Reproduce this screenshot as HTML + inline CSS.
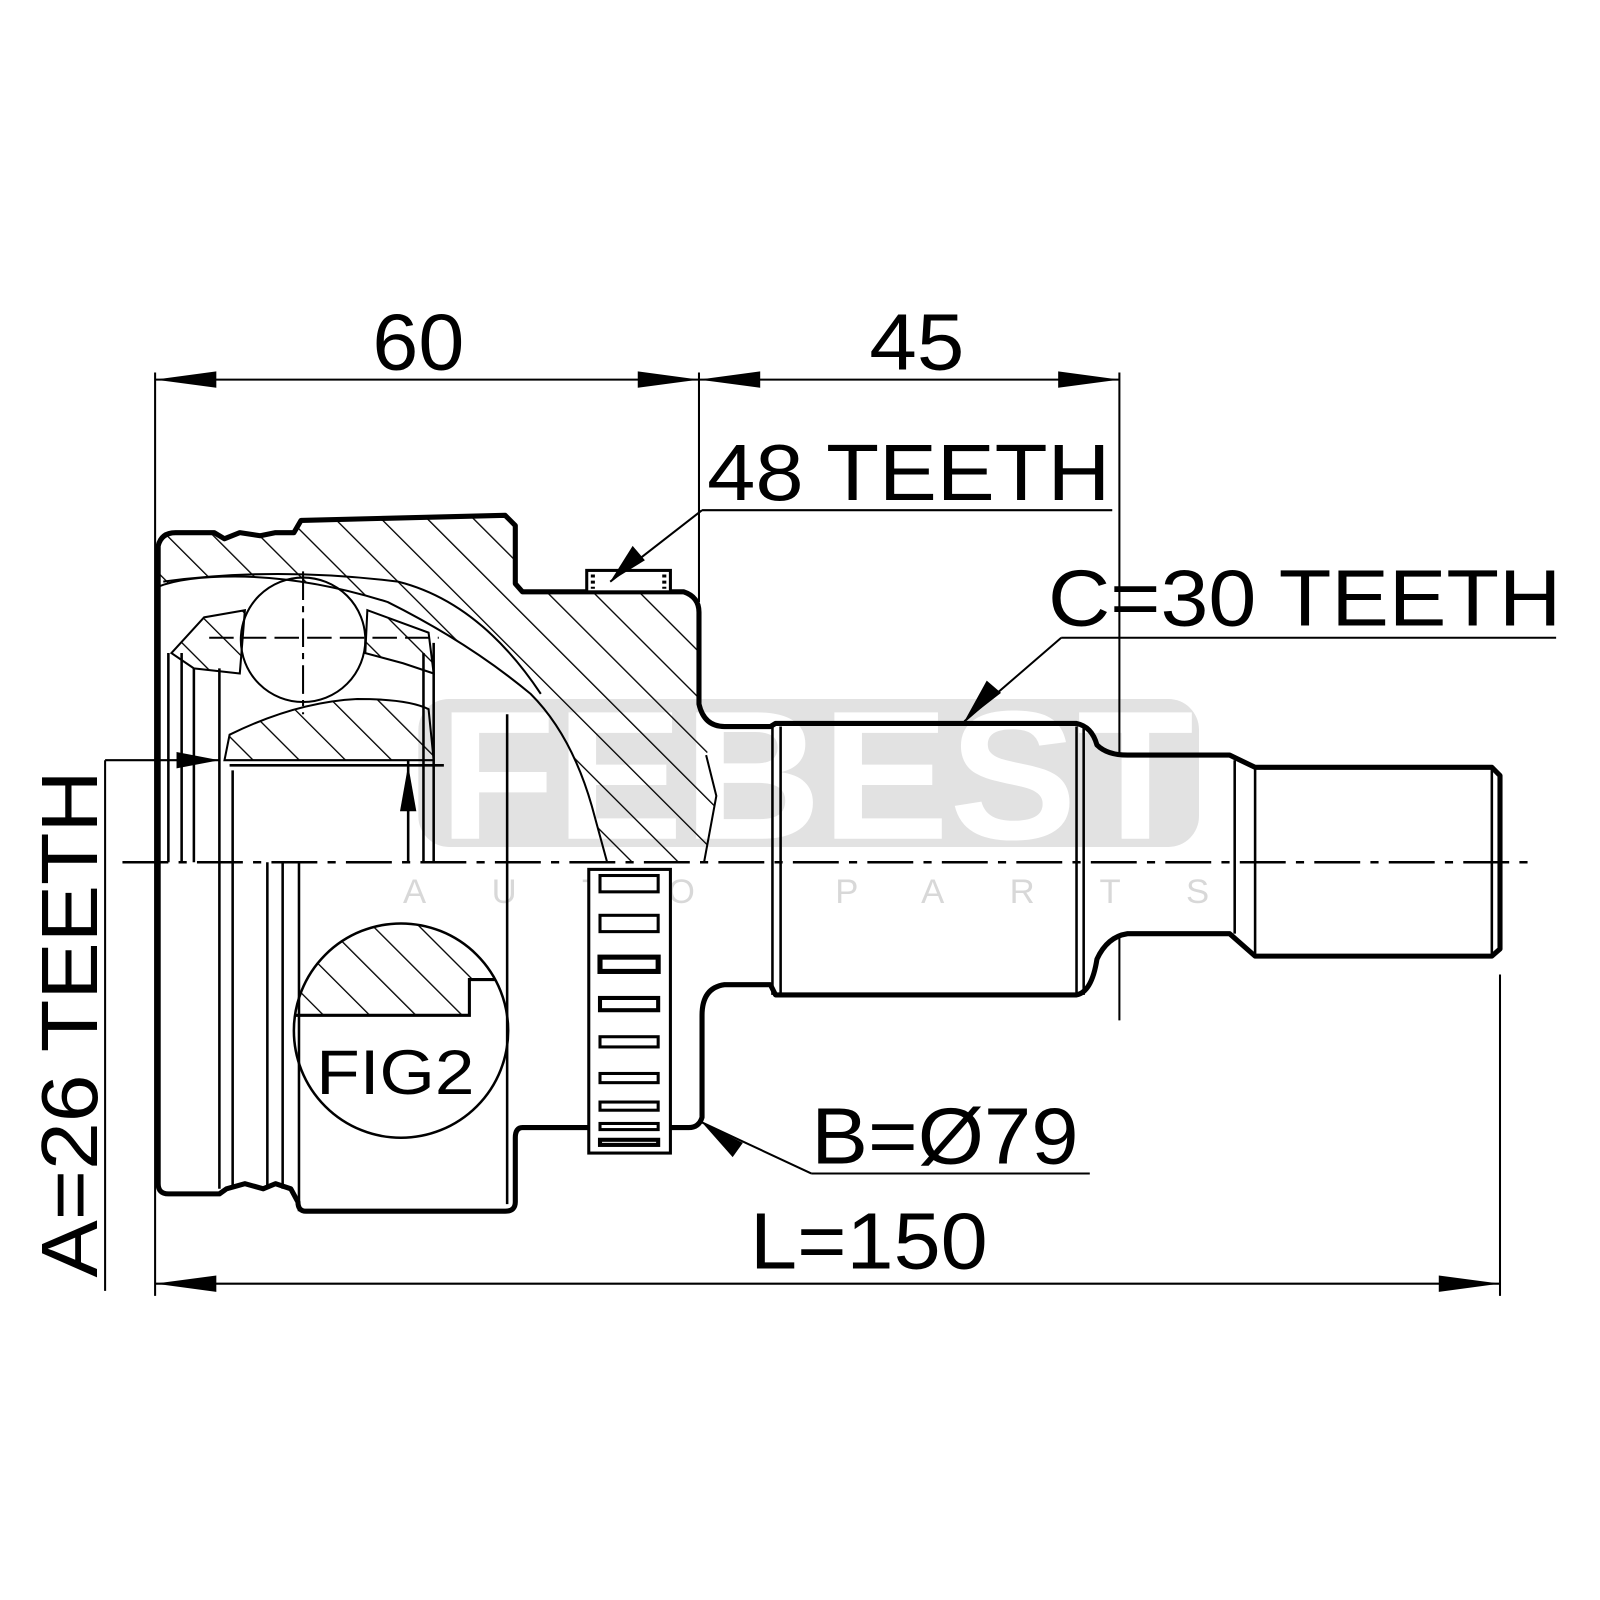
<!DOCTYPE html>
<html><head><meta charset="utf-8"><style>html,body{margin:0;padding:0;background:#fff}svg{display:block}</style></head>
<body>
<svg width="1600" height="1600" viewBox="0 0 1568 1568" xmlns="http://www.w3.org/2000/svg" font-family="Liberation Sans, sans-serif">
<defs>
<pattern id="h" width="32" height="32" patternUnits="userSpaceOnUse" patternTransform="rotate(-45)">
<line x1="0" y1="0" x2="0" y2="32" stroke="#000" stroke-width="2.6"/>
</pattern>
<clipPath id="fc"><circle cx="393" cy="1010" r="105"/></clipPath>
</defs>
<rect width="1568" height="1568" fill="#fff"/>
<rect x="410" y="685" width="765" height="145" rx="30" fill="#e2e2e2"/>
<text x="430" y="822" font-size="180" font-weight="bold" fill="#fff" textLength="740" lengthAdjust="spacingAndGlyphs">FEBEST</text>
<text x="395" y="885" font-size="34" fill="#d8d8d8" textLength="790" lengthAdjust="spacing">AUTO PARTS</text>

<g stroke="#000" fill="none">
<path d="M155,560 L155,535 Q158,522 172,522 L210,522 L220,528 L235,522 L255,525 L270,522 L288,522 L295,510 L495,505 L505,515 L505,572 L512,580 L670,580 L685,595 L685,690 L705,712 L692,740 L702,780 L690,845 L595,845 L580,790 Q560,720 520,680 Q460,630 380,590 Q300,565 230,565 Q180,565 155,575 Z" fill="url(#h)" stroke="none"/>
<path d="M168,640 L200,605 L240,598 L235,660 L190,655 Z" fill="url(#h)" stroke-width="2"/>
<path d="M360,598 L420,620 L425,660 L395,650 L358,640 Z" fill="url(#h)" stroke-width="2"/>
<path d="M220,745 L225,720 Q290,688 350,685 Q400,685 420,695 L425,745 Z" fill="url(#h)" stroke-width="2"/>
<g clip-path="url(#fc)"><path d="M280,995 L460,995 L460,960 L500,960 L500,880 L280,880 Z" fill="url(#h)" stroke-width="3"/></g>
<circle cx="393" cy="1010" r="105" stroke-width="2.5"/>

<path d="M155,575 Q180,565 230,565 Q300,565 380,590 Q460,630 520,680 Q560,720 580,790 L595,845" stroke-width="2"/>
<path d="M160,570 Q270,555 390,570 Q470,590 530,680" stroke-width="2"/>
<circle cx="297" cy="627" r="61" stroke-width="2"/>
<line x1="297" y1="560" x2="297" y2="700" stroke-width="2" stroke-dasharray="28,6,6,6"/>
<line x1="205" y1="625" x2="430" y2="625" stroke-width="2" stroke-dasharray="24,8"/>
<path d="M692,740 L702,780 L690,845" stroke-width="2"/>

<path d="M155,535 Q158,522 172,522 L210,522 L220,528 L235,522 L255,525 L270,522 L288,522 L295,510 L495,505 L505,515 L505,572 L512,580 L670,580 Q685,585 685,600 L685,690 Q690,712 710,712 L755,712 L760,709 L1055,709 Q1070,712 1075,730 Q1085,740 1105,740 L1205,740 L1230,752 L1462,752 L1470,760 L1470,930 L1462,937 L1230,937 L1205,915 L1105,915 Q1085,918 1075,940 Q1070,972 1055,975 L760,975 L755,965 L710,965 Q688,968 688,995 L688,1095 Q685,1105 675,1105 L512,1105 Q505,1105 505,1115 L505,1178 Q505,1187 495,1187 L300,1187 Q292,1187 292,1178 L285,1165 L270,1160 L258,1165 L240,1160 L222,1165 L215,1170 L165,1170 Q155,1170 155,1160 Z" stroke-width="5" stroke-linejoin="round"/>
<path d="M165,640 V845 M178,640 V845 M190,655 V845 M215,655 V845 M215,845 V1165 M228,755 V1165 M262,845 V1165 M277,845 V1165 M293,845 V1187 M400,745 V845 M415,640 V845 M425,630 V845 M497,700 V845 M497,845 V1180 M757,712 V975 M765,712 V975 M1055,712 V975 M1062,712 V975 M1210,745 V915 M1230,752 V937 M1462,752 V937" stroke-width="2.5"/>
<line x1="225" y1="750" x2="435" y2="750" stroke-width="2.5"/>
<rect x="575" y="559" width="82" height="21" stroke-width="3" fill="#fff"/>
<path d="M581,563 V577 M651,563 V577" stroke-width="4" stroke-dasharray="3,3"/>
<rect x="577" y="852" width="80" height="278" stroke-width="3" fill="#fff"/>
<g stroke-width="3">
<rect x="588" y="858" width="57" height="16"/><rect x="588" y="897" width="57" height="16"/>
<rect x="588" y="938" width="57" height="14" stroke-width="5"/><rect x="588" y="978" width="57" height="12" stroke-width="4"/>
<rect x="588" y="1016" width="57" height="10"/><rect x="588" y="1052" width="57" height="9"/>
<rect x="588" y="1080" width="57" height="8"/><rect x="588" y="1101" width="57" height="6"/>
<rect x="588" y="1117" width="57" height="5" stroke-width="4"/>
</g>
<line x1="120" y1="845" x2="1505" y2="845" stroke-width="2.5" stroke-dasharray="45,10,8,10"/>

<path d="M152,365 V1270 M685,365 V590 M1097,365 V740 M1097,915 V1000 M1470,955 V1270 M152,372 H1097 M152,1258 H1470 M103,745 V1265 M103,745 H215" stroke-width="2"/>
<path d="M688,500 H1090 M1040,625 H1525 M795,1150 H1068 M688,500 L598,570 M1040,625 L945,707 M795,1150 L688,1100 M400,845 V780" stroke-width="2"/>
</g>
<g fill="#000">
<path d="M152,372 l60,-8 v16 z M685,372 l-60,-8 v16 z M685,372 l60,-8 v16 z M1097,372 l-60,-8 v16 z M152,1258 l60,-8 v16 z M1470,1258 l-60,-8 v16 z"/>
<path d="M598,570 l22,-35 l12,14 z"/>
<path d="M945,707 l22,-40 l14,12 z"/>
<path d="M688,1100 l40,20 l-10,14 z"/>
<path d="M215,745 l-42,-8 v16 z"/>
<path d="M400,750 l-8,45 h16 z"/>
</g>
<g fill="#000" font-size="78">
<text x="365" y="362" textLength="90" lengthAdjust="spacingAndGlyphs">60</text>
<text x="852" y="362" textLength="93" lengthAdjust="spacingAndGlyphs">45</text>
<text x="693" y="490" textLength="395" lengthAdjust="spacingAndGlyphs">48 TEETH</text>
<text x="1027" y="613" textLength="503" lengthAdjust="spacingAndGlyphs">C=30 TEETH</text>
<text x="795" y="1140" textLength="262" lengthAdjust="spacingAndGlyphs">B=Ø79</text>
<text x="735" y="1243" textLength="233" lengthAdjust="spacingAndGlyphs">L=150</text>
<text x="310" y="1072" font-size="62" textLength="155" lengthAdjust="spacingAndGlyphs">FIG2</text>
<text transform="translate(95,1252) rotate(-90)" textLength="497" lengthAdjust="spacingAndGlyphs">A=26 TEETH</text>
</g>
</svg>
</body></html>
